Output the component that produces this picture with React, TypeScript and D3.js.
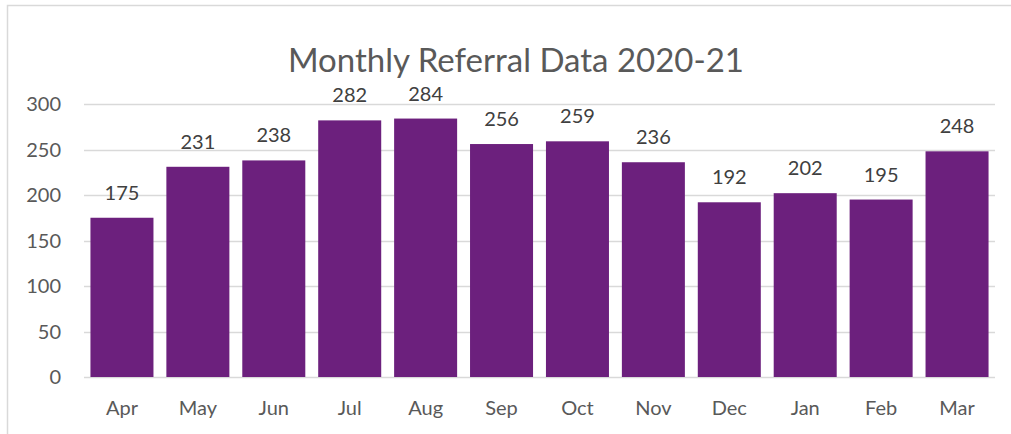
import * as d3 from "d3";
import { useEffect, useRef } from "react";

const months = ["Apr", "May", "Jun", "Jul", "Aug", "Sep", "Oct", "Nov", "Dec", "Jan", "Feb", "Mar"];
const referrals = [175, 231, 238, 282, 284, 256, 259, 236, 192, 202, 195, 248];
const yTicks = [0, 50, 100, 150, 200, 250, 300];

const W = 1011;
const H = 434;
const FONT = "Lato, 'Open Sans', sans-serif";

const App = () => {
    const ref = useRef(null);

    useEffect(() => {
        const svg = d3.select(ref.current);
        svg.selectAll("*").remove();

        const margin = { top: 104, bottom: 57, left: 84, right: 16 };

        const x = d3.scaleBand()
            .domain(months)
            .range([margin.left, W - margin.right])
            .paddingInner(0.17)
            .paddingOuter(0.085);

        const y = d3.scaleLinear()
            .domain([0, 300])
            .range([H - margin.bottom, margin.top]);

        // chart frame
        svg.append("rect")
            .attr("x", 7.5)
            .attr("y", 5.5)
            .attr("width", W + 20)
            .attr("height", H + 20)
            .attr("fill", "#fff")
            .attr("stroke", "#d9d9d9")
            .attr("stroke-width", 1.5);

        svg.append("text")
            .attr("x", 516)
            .attr("y", 72)
            .attr("text-anchor", "middle")
            .style("font-family", FONT)
            .style("font-size", "33px")
            .style("fill", "#595959")
            .text("Monthly Referral Data 2020-21");

        // gridlines
        svg.append("g")
            .selectAll("line")
            .data(yTicks)
            .enter()
            .append("line")
            .attr("x1", margin.left)
            .attr("x2", W - margin.right)
            .attr("y1", d => Math.round(y(d)) + 0.5)
            .attr("y2", d => Math.round(y(d)) + 0.5)
            .attr("stroke", "#d9d9d9")
            .attr("stroke-width", 1.3);

        // y tick labels
        svg.append("g")
            .selectAll("text")
            .data(yTicks)
            .enter()
            .append("text")
            .attr("x", 61)
            .attr("y", d => y(d))
            .attr("dy", "0.35em")
            .attr("text-anchor", "end")
            .style("font-family", FONT)
            .style("font-size", "20px")
            .style("fill", "#595959")
            .text(d => d);

        // bars
        svg.append("g")
            .selectAll("rect")
            .data(referrals)
            .enter()
            .append("rect")
            .attr("x", (d, i) => x(months[i]))
            .attr("y", d => y(d))
            .attr("width", x.bandwidth())
            .attr("height", d => y(0) - y(d))
            .style("fill", "#6c207d");

        // data labels
        svg.append("g")
            .selectAll("text")
            .data(referrals)
            .enter()
            .append("text")
            .attr("x", (d, i) => x(months[i]) + x.bandwidth() / 2)
            .attr("y", d => y(d) - 18)
            .attr("text-anchor", "middle")
            .style("font-family", FONT)
            .style("font-size", "20px")
            .style("fill", "#404040")
            .text(d => d);

        // month labels
        svg.append("g")
            .selectAll("text")
            .data(months)
            .enter()
            .append("text")
            .attr("x", d => x(d) + x.bandwidth() / 2)
            .attr("y", 415)
            .attr("text-anchor", "middle")
            .style("font-family", FONT)
            .style("font-size", "20px")
            .style("fill", "#595959")
            .text(d => d);
    }, []);

    return (
        <svg ref={ref} width={W} height={H} style={{ position: "absolute", left: 0, top: 0 }}></svg>
    );
};

export default App;
